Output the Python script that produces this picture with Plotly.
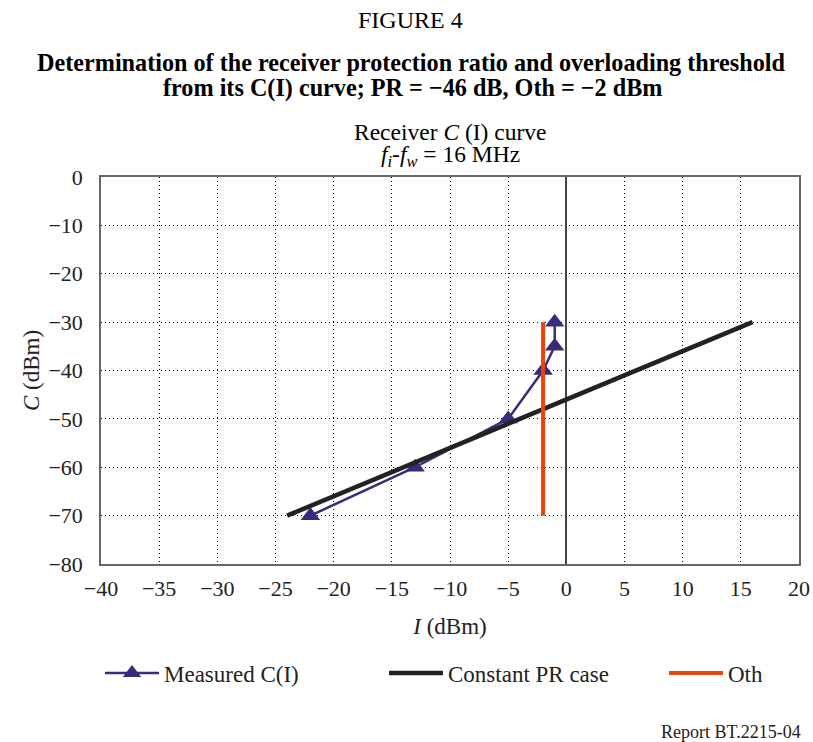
import plotly.graph_objects as go

meas_i = [-22, -13, -5, -2, -1, -1]
meas_c = [-70, -60, -50, -40, -35, -30]
pr_i = [-24, 16]
pr_c = [-70, -30]
oth_i = [-2, -2]
oth_c = [-70, -30]

x_ticks = [-40, -35, -30, -25, -20, -15, -10, -5, 0, 5, 10, 15, 20]
y_ticks = [0, -10, -20, -30, -40, -50, -60, -70, -80]

FONT = "Liberation Serif"
W, H = 813, 742
fig = go.Figure()
fig.add_trace(go.Scatter(x=meas_i, y=meas_c, mode="lines+markers", name="Measured C(I)",
                         line=dict(color="#3b2a7c", width=2.5),
                         marker=dict(symbol="triangle-up", size=17, color="#3b2a7c"),
                         legend="legend"))
fig.add_trace(go.Scatter(x=pr_i, y=pr_c, mode="lines", name="Constant PR case",
                         line=dict(color="#222222", width=4.5), legend="legend2"))
fig.add_trace(go.Scatter(x=oth_i, y=oth_c, mode="lines", name="Oth",
                         line=dict(color="#e8450a", width=4), legend="legend3"))


def leg(px):
    return dict(orientation="h", xref="container", yref="container",
                x=px / W, xanchor="left", y=1 - 673 / H, yanchor="middle",
                font=dict(size=23, family=FONT, color="#222222"), itemwidth=54,
                bgcolor="rgba(0,0,0,0)")


fig.update_layout(
    width=W, height=H,
    margin=dict(l=101, r=14, t=177, b=178, autoexpand=False),
    paper_bgcolor="white", plot_bgcolor="white",
    font=dict(family=FONT, size=22, color="#222222"),
    showlegend=True,
    legend=leg(100), legend2=leg(384), legend3=leg(664),
    xaxis=dict(range=[-40, 20], tickvals=x_ticks,
               ticktext=[str(v).replace("-", "\u2212") for v in x_ticks],
               showgrid=True, gridcolor="black", griddash="1px,3px", gridwidth=1,
               zeroline=True, zerolinecolor="#444444", zerolinewidth=1.5,
               showline=True, linecolor="#666666", linewidth=1.5, mirror=True,
               ticks="", tickfont=dict(size=22), ticklabelstandoff=4,
               automargin=False,
               title=dict(text="<i>I</i> (dBm)", font=dict(size=23), standoff=18)),
    yaxis=dict(range=[-80, 0], tickvals=y_ticks,
               ticktext=[str(v).replace("-", "\u2212") for v in y_ticks],
               showgrid=True, gridcolor="black", griddash="1px,3px", gridwidth=1,
               zeroline=False,
               showline=True, linecolor="#666666", linewidth=1.5, mirror=True,
               ticks="", tickfont=dict(size=22), ticklabelstandoff=12,
               automargin=False,
               title=dict(text="<i>C</i> (dBm)", font=dict(size=23), standoff=2)),
)

annos = [
    dict(text="FIGURE 4", x=410 / W, y=20, size=24),
    dict(text="<b>Determination of the receiver protection ratio and overloading threshold</b>", x=411 / W, y=63, size=24.2),
    dict(text="<b>from its C(I) curve; PR = \u221246 dB, Oth = \u22122 dBm</b>", x=412 / W, y=88, size=24.2),
    dict(text="Receiver <i>C</i> (I) curve", x=450 / W, y=132, size=23.5),
    dict(text="<i>f<sub>i</sub></i>-<i>f<sub>w</sub></i> = 16 MHz", x=450 / W, y=156, size=23.5),
]
for a in annos:
    fig.add_annotation(text=a["text"], xref="paper", yref="paper",
                       x=(a["x"] * W - 101) / 698, y=(564 - a["y"]) / 387,
                       xanchor="center", yanchor="middle", showarrow=False,
                       font=dict(size=a["size"], family=FONT, color="black"))
fig.add_annotation(text="Report BT.2215-04", xref="paper", yref="paper",
                   x=(803 - 101) / 698, y=(564 - 732) / 387, xanchor="right", yanchor="middle",
                   showarrow=False, font=dict(size=18, family=FONT, color="#222222"))

fig.write_html("out.html", config={"displayModeBar": False},
               post_script="document.body.style.margin='0';document.body.style.overflow='hidden';")
